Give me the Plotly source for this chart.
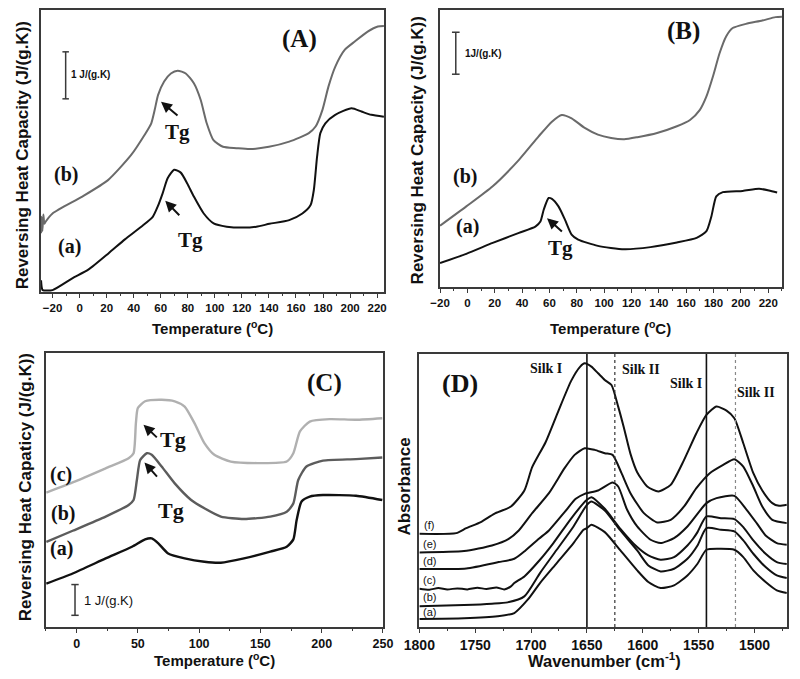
import plotly.graph_objects as go

# ---------------- data ----------------
# Panel A
A_b_T = [-28.5, -28.2, -27.5, -26.8, -26.0, -25.0, -20, 2, 21, 38, 48, 53, 55.5, 58, 62.5, 67.5, 72.5, 78.5, 84.5, 89.5, 94,
         99, 106, 116, 126, 140, 155, 169.5, 174.5, 179.5, 184, 189, 196, 203.5, 213, 220.5, 225]
A_b = [1.25, 1.60, 1.30, 1.65, 1.45, 1.50, 1.67, 2.03, 2.38, 2.91, 3.34, 3.59, 3.87, 4.19, 4.48, 4.65, 4.71, 4.65, 4.44, 4.09,
       3.59, 3.23, 3.09, 3.06, 3.04, 3.09, 3.20, 3.38, 3.52, 3.87, 4.37, 4.79, 5.15, 5.33, 5.54, 5.65, 5.66]
A_a_T = [-28.5, -28.0, -27.3, -20, -5.4, 6.7, 21.3, 33.5, 45.6, 54.1, 57.8, 61.4, 65.1, 69.9, 74.8, 79.6, 84.5, 91.8, 99.1,
         108.8, 121, 130.7, 140.4, 155, 164.7, 170.8, 173.2, 175.6, 178, 181.7, 189, 201.1, 208.4, 215.7, 225]
A_a = [0.25, 0.10, 0.04, 0.04, 0.29, 0.48, 0.82, 1.12, 1.39, 1.60, 1.82, 2.10, 2.42, 2.60, 2.54, 2.31, 2.03, 1.67, 1.46,
       1.39, 1.37, 1.39, 1.45, 1.53, 1.67, 1.85, 2.17, 2.88, 3.38, 3.59, 3.77, 3.91, 3.84, 3.77, 3.73]

# Panel B
B_b_T = [-20, -0.8, 18.5, 37.7, 52.1, 61.8, 69.0, 76.2, 85.8, 95.4, 105.1, 114.7, 124.3, 138.7, 153.2, 162.8, 170.0, 174.8,
         179.6, 184.4, 189.2, 194.0, 203.7, 215.7, 225.3, 230]
B_b = [1.46, 1.92, 2.40, 3.03, 3.59, 3.94, 4.10, 4.02, 3.79, 3.63, 3.55, 3.52, 3.57, 3.67, 3.83, 3.98, 4.22, 4.54, 5.02,
       5.57, 5.97, 6.17, 6.27, 6.35, 6.43, 6.44]
B_a_T = [-20, -0.8, 18.5, 37.7, 49.7, 53.4, 55.8, 59.4, 61.8, 66.6, 71.4, 76.2, 81.0, 95.4, 114.7, 133.9, 153.2, 167.6,
         174.8, 178.4, 182.0, 186.8, 201.3, 213.3, 220.5, 226.5]
B_a = [0.57, 0.79, 1.05, 1.29, 1.44, 1.56, 1.84, 2.12, 2.10, 1.92, 1.60, 1.25, 1.13, 0.98, 0.90, 0.95, 1.06, 1.17, 1.33,
       1.68, 2.16, 2.26, 2.29, 2.34, 2.30, 2.25]

# Panel C
C_c_T = [-24.7, -3.2, 23.7, 42.5, 46.5, 48.4, 50.0, 55.9, 69.4, 80.1, 88.2, 96.2, 104.3, 112.4, 125.8, 147.3, 171.5, 176.9,
         182.3, 190.3, 206.5, 228.0, 249.5]
C_c = [4.37, 4.70, 5.16, 5.49, 5.65, 6.63, 7.12, 7.34, 7.39, 7.34, 7.17, 6.63, 5.98, 5.60, 5.38, 5.33, 5.38, 5.65, 6.36,
       6.68, 6.76, 6.74, 6.79]
C_b_T = [-24.7, -3.2, 23.7, 42.5, 46.5, 49.2, 51.9, 57.3, 61.3, 69.4, 80.1, 93.5, 104.3, 117.7, 136.6, 158.1, 171.5, 176.9,
         180.9, 187.6, 201.1, 228.0, 249.5]
C_b = [2.77, 3.13, 3.59, 3.97, 4.13, 4.78, 5.43, 5.65, 5.60, 5.22, 4.67, 4.13, 3.86, 3.59, 3.51, 3.59, 3.75, 4.02, 4.78,
       5.22, 5.41, 5.46, 5.51]
C_a_T = [-24.7, -3.2, 23.7, 45.2, 55.9, 61.3, 66.7, 74.7, 88.2, 104.3, 117.7, 136.6, 158.1, 171.5, 176.9, 179.6, 183.6,
         190.3, 201.1, 228.0, 249.5]
C_a = [1.41, 1.74, 2.23, 2.61, 2.85, 2.88, 2.72, 2.39, 2.23, 2.12, 2.09, 2.23, 2.45, 2.61, 2.85, 3.48, 4.08, 4.24, 4.29,
       4.27, 4.13]

# Panel D (FTIR)
D_f_W = [1800, 1767, 1758, 1745, 1733, 1718, 1706, 1699, 1687, 1676, 1664, 1656, 1652, 1646, 1640, 1634, 1628, 1622, 1617,
         1611, 1605, 1596, 1586, 1575, 1563, 1552, 1543, 1534, 1525, 1518, 1510, 1501, 1493, 1484, 1478, 1471]
D_f = [2.80, 2.82, 2.97, 3.15, 3.40, 3.62, 4.10, 4.80, 5.55, 6.45, 7.40, 7.82, 7.92, 7.82, 7.62, 7.42, 7.27, 6.62, 6.00,
       5.20, 4.65, 4.22, 4.07, 4.27, 5.02, 5.82, 6.37, 6.62, 6.50, 6.27, 5.52, 4.62, 4.10, 3.72, 3.64, 3.67]
D_e_W = [1800, 1760, 1735, 1720, 1711, 1699, 1684, 1670, 1661, 1652, 1643, 1634, 1627, 1619, 1611, 1599, 1587, 1575, 1563,
         1552, 1540, 1528, 1518, 1510, 1501, 1493, 1484, 1471]
D_e = [2.24, 2.28, 2.45, 2.65, 2.90, 3.42, 4.02, 4.77, 5.17, 5.37, 5.32, 5.22, 5.17, 4.62, 4.02, 3.42, 3.14, 3.22, 3.62,
       4.17, 4.62, 4.87, 5.04, 4.82, 4.22, 3.62, 3.22, 3.12]
D_d_W = [1800, 1758, 1729, 1715, 1705, 1693, 1684, 1670, 1660, 1652, 1640, 1627, 1622, 1614, 1605, 1593, 1584, 1572, 1560,
         1543, 1534, 1518, 1507, 1498, 1490, 1480, 1471]
D_d = [1.74, 1.76, 1.95, 2.05, 2.30, 2.65, 2.90, 3.45, 3.85, 4.00, 4.10, 4.34, 4.22, 3.52, 3.02, 2.62, 2.52, 2.67, 3.02,
       3.72, 3.87, 3.94, 3.52, 3.12, 2.75, 2.52, 2.47]
D_c_W = [1800, 1791, 1783, 1775, 1766, 1757, 1748, 1740, 1731, 1724, 1718, 1715, 1706, 1692, 1680, 1665, 1653, 1650, 1646,
         1634, 1620, 1605, 1595, 1584, 1572, 1560, 1555, 1551, 1543, 1530, 1518, 1510, 1501, 1490, 1480, 1471]
D_c = [1.15, 1.12, 1.17, 1.13, 1.16, 1.13, 1.18, 1.14, 1.19, 1.13, 1.22, 1.32, 1.52, 2.02, 2.52, 3.22, 3.72, 3.82, 3.90,
       3.55, 2.95, 2.40, 2.15, 2.02, 2.10, 2.45, 2.65, 2.85, 3.32, 3.27, 3.24, 3.00, 2.60, 2.20, 1.95, 1.89]
D_b_W = [1800, 1760, 1735, 1721, 1706, 1692, 1677, 1662, 1653, 1650, 1646, 1634, 1620, 1605, 1595, 1584, 1572, 1560, 1551,
         1543, 1530, 1518, 1510, 1501, 1490, 1480, 1471]
D_b = [0.62, 0.66, 0.70, 0.74, 0.92, 1.62, 2.32, 3.02, 3.52, 3.67, 3.77, 3.50, 2.90, 2.30, 1.85, 1.67, 1.75, 2.05, 2.45,
       2.97, 2.92, 2.87, 2.60, 2.20, 1.80, 1.55, 1.47]
D_a_W = [1800, 1760, 1730, 1715, 1703, 1692, 1677, 1662, 1653, 1650, 1646, 1634, 1620, 1605, 1595, 1584, 1572, 1560, 1551,
         1543, 1530, 1518, 1510, 1501, 1490, 1480, 1471]
D_a = [0.24, 0.26, 0.32, 0.42, 0.82, 1.32, 1.92, 2.52, 2.92, 2.97, 3.07, 2.85, 2.30, 1.70, 1.35, 1.17, 1.25, 1.55, 1.90,
       2.32, 2.35, 2.32, 2.10, 1.70, 1.35, 1.10, 1.02]

D_vlines_solid = [1650, 1543]
D_vlines_dash = [1625, 1517]
D_labels = ["(a)", "(b)", "(c)", "(d)", "(e)", "(f)"]
D_label_y = [0.45, 0.90, 1.42, 1.98, 2.50, 3.05]

# ---------------- figure ----------------
OFF = 8
W, H = 800 - OFF, 679 - OFF
# horizontal page-pixel -> paper mapping measured from a calibration render
X0, XW = 17.7, 777.5
def fx(p):
    return (p - X0) / XW
def dx(a, b):
    return [fx(a), fx(b)]
def fy(p):
    return 1 - (p - OFF) / H
def dy(top, bot):
    return [fy(bot), fy(top)]

SANS = "Arial, Liberation Sans, sans-serif"
SERIF = "Times New Roman, Liberation Serif, serif"
FRAME = "#3a3a3a"
BLACK = "#111111"

fig = go.Figure()

def add_line(x, y, xa, ya, color, width=2.0, shape="spline"):
    fig.add_trace(go.Scatter(x=x, y=y, xaxis=xa, yaxis=ya, mode="lines",
                             line=dict(color=color, width=width, shape=shape, smoothing=0.6),
                             showlegend=False, hoverinfo="skip"))

add_line(A_b_T, A_b, "x", "y", "#6a6a6a")
add_line(A_a_T, A_a, "x", "y", BLACK)
add_line(B_b_T, B_b, "x2", "y2", "#6a6a6a")
add_line(B_a_T, B_a, "x2", "y2", BLACK)
add_line(C_c_T, C_c, "x3", "y3", "#b0b0b0", 2.4)
add_line(C_b_T, C_b, "x3", "y3", "#5c5c5c", 2.4)
add_line(C_a_T, C_a, "x3", "y3", BLACK, 2.4)
for wx, wy in [(D_f_W, D_f), (D_e_W, D_e), (D_d_W, D_d), (D_c_W, D_c), (D_b_W, D_b), (D_a_W, D_a)]:
    add_line(wx, wy, "x4", "y4", BLACK, 2.0)

def xaxis(domain, rng, dtick, minor, anchor, fsize):
    return dict(domain=domain, range=rng, anchor=anchor, showline=True, mirror=True, linecolor=FRAME, linewidth=1.5,
                ticks="outside", ticklen=4, tickwidth=1.2, tickcolor=FRAME, tick0=0, dtick=dtick,
                minor=dict(dtick=minor, ticks="outside", ticklen=2.5, tickwidth=1, tickcolor=FRAME),
                showgrid=False, zeroline=False, fixedrange=True,
                tickfont=dict(family=SANS, size=fsize, color=BLACK, weight="bold"))

def yaxis(domain, rng, anchor):
    return dict(domain=domain, range=rng, anchor=anchor, showline=True, mirror=True, linecolor=FRAME, linewidth=1.5,
                ticks="", showticklabels=False, showgrid=False, zeroline=False, fixedrange=True)

fig.update_layout(
    width=W, height=H, margin=dict(l=0, r=0, t=0, b=0),
    paper_bgcolor="white", plot_bgcolor="white", showlegend=False,
    xaxis=xaxis(dx(35, 383), [-28.5, 225], 20, 10, "y", 11.5),
    yaxis=yaxis(dy(10, 292), [0, 6.0], "x"),
    xaxis2=xaxis(dx(440, 787), [-20, 230], 20, 10, "y2", 11.5),
    yaxis2=yaxis(dy(10, 287), [0, 6.6], "x2"),
    xaxis3=xaxis(dx(40, 382), [-25, 250], 50, 25, "y3", 12.5),
    yaxis3=yaxis(dy(353, 627), [0, 8.91], "x3"),
    xaxis4=xaxis(dx(419, 792), [1800, 1471], 50, 25, "y4", 14),
    yaxis4=yaxis(dy(354, 627), [0, 8.2], "x4"),
)

ann = []
shapes = []

def txt(x, y, s, xr, yr, size, family=SERIF, xanchor="center", bold=True):
    ann.append(dict(x=x, y=y, xref=xr, yref=yr, text=s, showarrow=False, xanchor=xanchor, yanchor="middle",
                    font=dict(family=family, size=size, color=BLACK, weight="bold" if bold else "normal")))

def arrow(hx, hy, tx, ty, xr, yr):
    ann.append(dict(x=hx, y=hy, ax=tx, ay=ty, xref=xr, yref=yr, axref=xr, ayref=yr, text="", showarrow=True,
                    arrowhead=2, arrowsize=1.1, arrowwidth=2, arrowcolor=BLACK))

def scalebar(x, y0, y1, cap, xr, yr):
    shapes.append(dict(type="line", x0=x, x1=x, y0=y0, y1=y1, xref=xr, yref=yr, line=dict(color=FRAME, width=1.5)))
    for yy in (y0, y1):
        shapes.append(dict(type="line", x0=x - cap, x1=x + cap, y0=yy, y1=yy, xref=xr, yref=yr,
                           line=dict(color=FRAME, width=1.5)))

# Panel A
txt(162.7, 5.38, "(A)", "x", "y", 25)
txt(-10.3, 2.51, "(b)", "x", "y", 20)
txt(-7.8, 0.96, "(a)", "x", "y", 20)
txt(72.3, 3.41, "Tg", "x", "y", 21)
arrow(60.2, 4.05, 73.5, 3.73, "x", "y")
txt(82, 1.11, "Tg", "x", "y", 21)
arrow(63.3, 1.94, 74.8, 1.60, "x", "y")
scalebar(-10.3, 4.11, 5.11, 2.4, "x", "y")
txt(-8.0, 4.62, "1 J/(g.K)", "x", "y", 10, family=SANS, xanchor="left")

# Panel B
txt(158, 6.09, "(B)", "x2", "y2", 25)
txt(-2, 2.63, "(b)", "x2", "y2", 20)
txt(0.4, 1.44, "(a)", "x2", "y2", 20)
txt(67.8, 0.93, "Tg", "x2", "y2", 21)
arrow(58.2, 1.64, 70.2, 1.29, "x2", "y2")
scalebar(-8.5, 5.07, 6.07, 2.8, "x2", "y2")
txt(-3.2, 5.57, "1J/(g.K)", "x2", "y2", 10, family=SANS, xanchor="left")

# Panel C
txt(202.4, 7.93, "(C)", "x3", "y3", 25)
txt(-12.6, 4.95, "(c)", "x3", "y3", 20)
txt(-11.3, 3.70, "(b)", "x3", "y3", 20)
txt(-12.6, 2.55, "(a)", "x3", "y3", 20)
txt(78.8, 6.09, "Tg", "x3", "y3", 22)
arrow(54.6, 6.58, 66.7, 6.12, "x3", "y3")
txt(77.4, 3.80, "Tg", "x3", "y3", 22)
arrow(55.4, 5.35, 66.7, 4.84, "x3", "y3")
scalebar(-1.3, 0.38, 1.38, 3.0, "x3", "y3")
txt(4.8, 0.85, "1 J/(g.K)", "x3", "y3", 13, family=SANS, xanchor="left", bold=False)

# Panel D
txt(1764, 7.32, "(D)", "x4", "y4", 26)
txt(1687, 7.77, "Silk I", "x4", "y4", 14)
txt(1602, 7.74, "Silk II", "x4", "y4", 14)
txt(1561, 7.32, "Silk I", "x4", "y4", 14)
txt(1498.5, 7.04, "Silk II", "x4", "y4", 14)
for lab, ly in zip(D_labels, D_label_y):
    txt(1791, ly, lab, "x4", "y4", 11, family=SANS, bold=False)
for v in D_vlines_solid:
    shapes.append(dict(type="line", x0=v, x1=v, y0=0, y1=1, xref="x4", yref="y4 domain",
                       line=dict(color=BLACK, width=1.6)))
for i, v in enumerate(D_vlines_dash):
    shapes.append(dict(type="line", x0=v, x1=v, y0=0, y1=1, xref="x4", yref="y4 domain",
                       line=dict(color="#333333" if i == 0 else "#888888", width=1.2, dash="3px,3px")))

# Axis titles (page pixel positions converted to paper coordinates)
def ptitle(px, py, s, size, angle=0):
    ann.append(dict(x=fx(px), y=fy(py), xref="paper", yref="paper", text=s, showarrow=False,
                    textangle=angle, xanchor="center", yanchor="middle",
                    font=dict(family=SANS, size=size, color=BLACK, weight="bold")))

ptitle(209, 328, "Temperature (<sup>o</sup>C)", 15)
ptitle(613, 328, "Temperature (<sup>o</sup>C)", 15)
ptitle(211, 659, "Temperature (<sup>o</sup>C)", 15)
ptitle(607, 660, "Wavenumber (cm<sup>-1</sup>)", 16.5)
ptitle(16, 155, "Reversing Heat Capacity (J/(g.K))", 17, -90)
ptitle(418, 150, "Reversing Heat Capacity (J/(g.K))", 17, -90)
ptitle(20, 487, "Reversing Heat Capaticy (J/(g.K))", 17, -90)
ptitle(404, 487, "Absorbance", 17, -90)

fig.update_layout(annotations=ann, shapes=shapes)
fig.write_html("out.html")
